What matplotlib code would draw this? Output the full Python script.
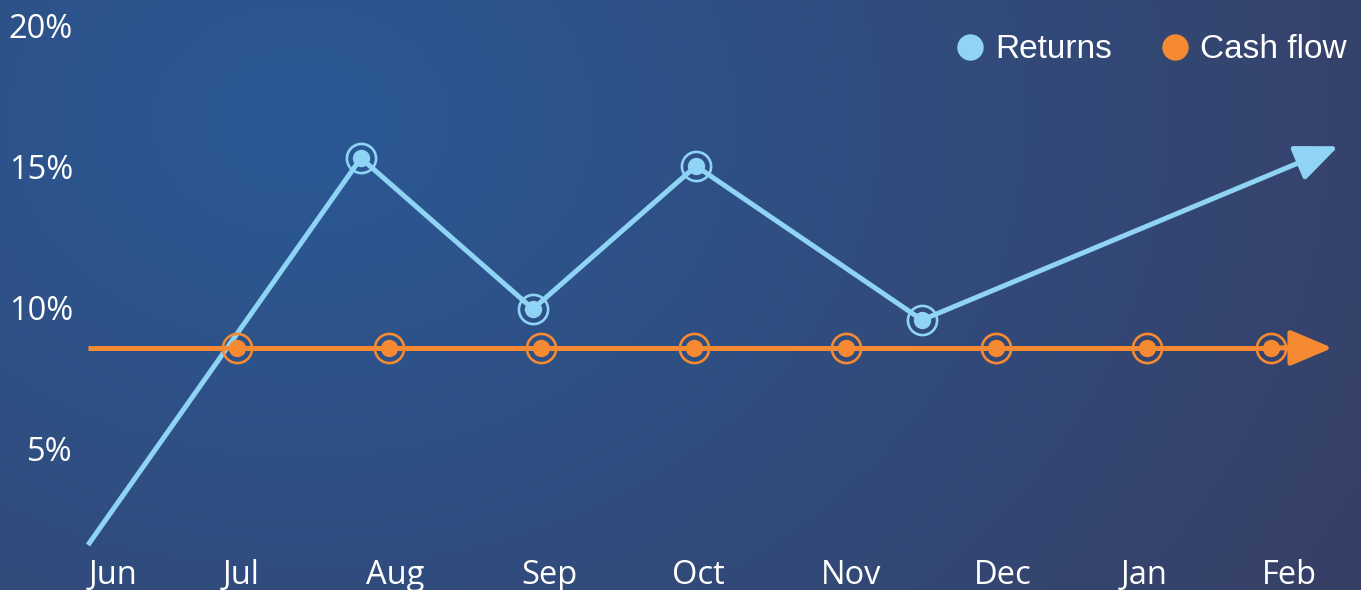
import numpy as np
import matplotlib.pyplot as plt
from matplotlib.lines import Line2D

# datos (x en meses, Jun = 0)
meses = ["Jun", "Jul", "Aug", "Sep", "Oct", "Nov", "Dec", "Jan", "Feb"]
pos_meses = [0.0, 0.87, 1.92, 2.97, 3.98, 5.02, 6.05, 7.01, 8.0]

ret_x = [-0.17, 1.686, 2.855, 3.963, 5.50, 8.33]
ret_y = [1.56, 15.28, 9.93, 15.0, 9.54, 15.7]
ret_marcas = [1, 2, 3, 4]  # indices con marcador

caja_x = [-0.17, 0.843, 1.876, 2.91, 3.95, 4.98, 6.00, 7.03, 7.87, 8.29]
caja_y = [8.55] * 10
caja_marcas = [1, 2, 3, 4, 5, 6, 7, 8]

ticks_y = [5, 10, 15, 20]
etiquetas_y = ["5%", "10%", "15%", "20%"]

AZUL = "#8fd3f5"
NARANJA = "#f58a32"

fig = plt.figure(figsize=(13.61, 5.90), dpi=100)

# fondo con degradado radial
fondo = fig.add_axes([0, 0, 1, 1])
fondo.set_axis_off()
W, H = 1361, 590
xx, yy = np.meshgrid(np.arange(W), np.arange(H))
d = np.sqrt((xx - 300) ** 2 + ((yy - 120) * 1.3) ** 2)
t = np.clip(d / 1200, 0, 1)[..., None]
c0 = np.array([0x2a, 0x59, 0x96]) / 255
c1 = np.array([0x37, 0x40, 0x66]) / 255
img = c0 * (1 - t) + c1 * t
fondo.imshow(img, extent=[0, 1, 0, 1], aspect="auto", origin="upper")
fondo.set_xlim(0, 1)
fondo.set_ylim(0, 1)

ax = fig.add_axes([80 / W, 42 / H, 1281 / W, 548 / H])
ax.patch.set_alpha(0)
ax.set_xlim(-0.224, 8.484)
ax.set_ylim(1.454, 20.887)
for s in ax.spines.values():
    s.set_visible(False)

lw = 3.6

def serie(xs, ys, marcas, color):
    # linea hasta el penultimo punto y flecha al final
    ax.plot(xs[:-1], ys[:-1], color=color, lw=lw, solid_capstyle="butt", clip_on=False, zorder=3)
    ax.annotate("", xy=(xs[-1], ys[-1]), xytext=(xs[-2], ys[-2]),
                arrowprops=dict(arrowstyle="-|>,head_length=1.3,head_width=0.55",
                                color=color, lw=lw, shrinkA=0, shrinkB=0,
                                mutation_scale=20), zorder=3)
    mx = [xs[i] for i in marcas]
    my = [ys[i] for i in marcas]
    ax.plot(mx, my, "o", ms=21, mfc="none", mec=color, mew=1.9, zorder=4, clip_on=False)
    ax.plot(mx, my, "o", ms=12.5, mfc=color, mec="none", zorder=5, clip_on=False)

serie(ret_x, ret_y, ret_marcas, AZUL)
serie(caja_x, caja_y, caja_marcas, NARANJA)

ax.set_xticks(pos_meses)
ax.set_xticklabels(meses)
ax.set_yticks(ticks_y)
ax.set_yticklabels(etiquetas_y)
ax.tick_params(length=0, colors="white", labelsize=23.5)
ax.tick_params(axis="y", pad=5)
ax.tick_params(axis="x", pad=8)
for lab in ax.get_xticklabels() + ax.get_yticklabels():
    lab.set_fontfamily("Open Sans")

handles = [Line2D([], [], ls="none", marker="o", ms=19, mfc=AZUL, mec="none"),
           Line2D([], [], ls="none", marker="o", ms=19, mfc=NARANJA, mec="none")]
leg = fig.legend(handles, ["Returns", "Cash flow"], loc="center right",
                 bbox_to_anchor=(1347 / W, 1 - 50 / H), frameon=False, ncol=2,
                 prop={"family": "Liberation Sans", "size": 24},
                 handlelength=0.8, handletextpad=0.35, columnspacing=1.5,
                 borderaxespad=0, borderpad=0)
for txt in leg.get_texts():
    txt.set_color("white")

fig.savefig("out.png", dpi=100)
